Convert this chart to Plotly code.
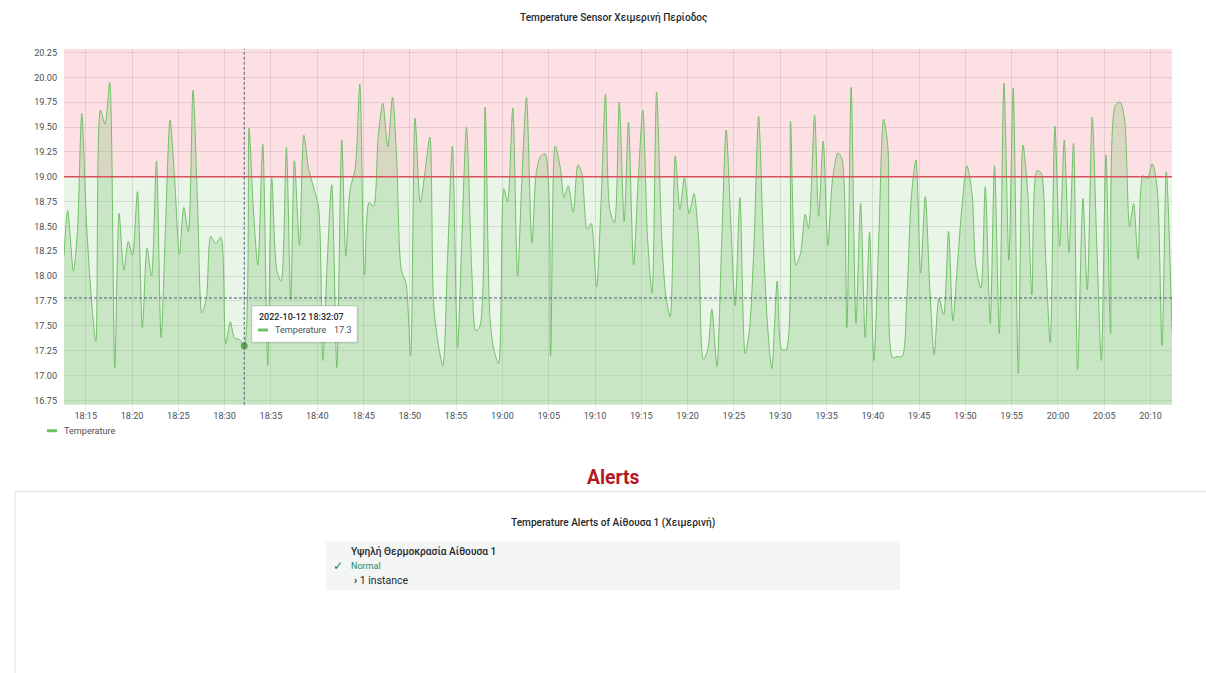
import pandas as pd
import plotly.graph_objects as go

# ---------------------------------------------------------------- data
DAY = "2022-10-12"

times = [
    "18:12:39", "18:13:03", "18:13:40", "18:14:06", "18:14:34", "18:15:05", "18:15:35",
    "18:16:05", "18:16:35", "18:17:05", "18:17:35", "18:18:08", "18:18:36", "18:19:07",
    "18:19:36", "18:20:03", "18:20:35", "18:21:07", "18:21:37", "18:22:06", "18:22:38",
    "18:23:08", "18:23:37", "18:24:06", "18:24:36", "18:25:07", "18:25:35", "18:26:05",
    "18:26:35", "18:27:05", "18:27:33", "18:28:02", "18:28:30", "18:29:02", "18:29:35",
    "18:30:07", "18:30:37", "18:31:03", "18:31:37", "18:32:07", "18:32:38", "18:33:05",
    "18:33:35", "18:34:07", "18:34:39", "18:35:05", "18:35:38", "18:36:06", "18:36:40",
    "18:37:08", "18:37:32", "18:38:05", "18:38:33", "18:39:05", "18:39:35", "18:40:08",
    "18:40:36", "18:41:05", "18:41:34", "18:42:07", "18:42:39", "18:43:05", "18:43:33",
    "18:44:06", "18:44:36", "18:45:06", "18:45:36", "18:46:04", "18:46:35", "18:47:05",
    "18:47:37", "18:48:08", "18:48:35", "18:49:05", "18:49:35", "18:50:05", "18:50:34",
    "18:51:08", "18:51:40", "18:52:10", "18:52:35", "18:53:06", "18:53:34", "18:54:05",
    "18:54:36", "18:55:09", "18:55:37", "18:56:07", "18:56:42", "18:57:08", "18:57:35",
    "18:58:08", "18:58:40", "18:59:05", "18:59:35", "19:00:09", "19:00:33", "19:01:07",
    "19:01:38", "19:02:05", "19:02:36", "19:03:11", "19:03:39", "19:04:05", "19:04:37",
    "19:05:12", "19:05:42", "19:06:14", "19:06:40", "19:07:06", "19:07:39", "19:08:09",
    "19:08:35", "19:09:09", "19:09:35", "19:10:10", "19:10:40", "19:11:08", "19:11:36",
    "19:12:06", "19:12:37", "19:13:09", "19:13:37", "19:14:10", "19:14:40", "19:15:10",
    "19:15:40", "19:16:10", "19:16:39", "19:17:13", "19:17:39", "19:18:07", "19:18:40",
    "19:19:10", "19:19:40", "19:20:10", "19:20:41", "19:21:11", "19:21:42", "19:22:11",
    "19:22:37", "19:23:10", "19:23:40", "19:24:10", "19:24:40", "19:25:08", "19:25:39",
    "19:26:13", "19:26:40", "19:27:10", "19:27:40", "19:28:12", "19:28:40", "19:29:06",
    "19:29:41", "19:30:11", "19:30:39", "19:31:07", "19:31:42", "19:32:12", "19:32:42",
    "19:33:04", "19:33:43", "19:34:09", "19:34:39", "19:35:09", "19:35:39", "19:36:14",
    "19:36:40", "19:37:12", "19:37:40", "19:38:11", "19:38:41", "19:39:11", "19:39:39",
    "19:40:07", "19:40:40", "19:41:10", "19:41:38", "19:42:08", "19:42:38", "19:43:10",
    "19:43:40", "19:44:10", "19:44:40", "19:45:10", "19:45:40", "19:46:10", "19:46:38",
    "19:47:09", "19:47:39", "19:48:11", "19:48:39", "19:49:08", "19:49:38", "19:50:10",
    "19:50:43", "19:51:08", "19:51:41", "19:52:09", "19:52:41", "19:53:09", "19:53:40",
    "19:54:10", "19:54:42", "19:55:10", "19:55:43", "19:56:13", "19:56:43", "19:57:11",
    "19:57:44", "19:58:10", "19:58:40", "19:59:10", "19:59:40", "20:00:11", "20:00:41",
    "20:01:11", "20:01:41", "20:02:07", "20:02:42", "20:03:10", "20:03:42", "20:04:12",
    "20:04:41", "20:05:11", "20:05:41", "20:06:12", "20:06:44", "20:07:12", "20:07:44",
    "20:08:10", "20:08:39", "20:09:11", "20:09:39", "20:10:11", "20:10:42", "20:11:14",
    "20:11:42", "20:12:19",
]

temps = [
    18.20, 18.66, 18.05, 18.45, 19.64, 18.53, 17.80,
    17.34, 19.67, 19.53, 19.95, 17.08, 18.63, 18.06,
    18.35, 18.21, 18.85, 17.48, 18.28, 18.00, 19.16,
    17.38, 18.50, 19.57, 18.97, 18.22, 18.69, 18.45,
    19.87, 18.70, 17.63, 17.78, 18.40, 18.33, 18.39,
    17.32, 17.54, 17.38, 17.36, 17.30, 19.49, 18.70,
    18.11, 19.33, 17.10, 18.99, 18.06, 17.95, 19.30,
    17.76, 19.16, 18.31, 19.42, 19.07, 18.90, 18.70,
    17.15, 18.15, 18.92, 17.08, 19.37, 18.20, 18.87,
    19.08, 19.93, 18.01, 18.74, 18.70, 19.40, 19.74,
    19.30, 19.80, 19.17, 18.06, 17.93, 17.20, 19.59,
    18.74, 19.07, 19.40, 17.70, 17.30, 17.10, 18.20,
    19.31, 17.28, 18.37, 19.50, 18.03, 17.45, 17.50,
    19.70, 17.56, 17.26, 17.12, 18.88, 18.75, 19.69,
    18.00, 18.93, 19.80, 18.33, 19.03, 19.20, 19.23,
    17.20, 19.31, 19.10, 18.79, 18.91, 18.64, 19.12,
    19.03, 18.47, 18.53, 17.89, 18.77, 19.83, 18.67,
    18.54, 19.75, 18.55, 19.55, 18.11, 18.97, 19.67,
    18.40, 17.83, 19.85, 18.37, 17.80, 17.59, 19.21,
    18.67, 18.99, 18.63, 18.83, 18.37, 17.16, 17.26,
    17.67, 17.09, 18.30, 19.47, 18.53, 17.70, 18.79,
    17.22, 17.45, 18.30, 19.61, 18.30, 17.46, 17.07,
    17.95, 17.26, 17.26, 19.56, 18.11, 18.23, 18.62,
    18.48, 19.62, 18.60, 19.36, 18.31, 18.97, 19.24,
    19.18, 17.48, 19.90, 17.52, 18.73, 17.38, 18.44,
    17.15, 18.43, 19.58, 19.30, 17.18, 17.19, 17.19,
    17.75, 18.80, 19.17, 18.03, 18.80, 17.86, 17.21,
    17.78, 17.61, 18.45, 17.55, 18.10, 18.70, 19.11,
    18.83, 18.10, 17.88, 18.90, 17.52, 19.11, 17.42,
    19.94, 18.16, 19.89, 17.02, 19.32, 18.87, 17.81,
    19.06, 19.04, 18.20, 17.33, 19.51, 18.30, 19.37,
    18.24, 19.34, 17.06, 18.78, 17.86, 19.60, 18.30,
    17.15, 19.22, 17.42, 19.72, 19.75, 19.57, 18.50,
    18.73, 18.17, 19.01, 18.98, 19.13, 18.90, 17.30,
    19.05, 17.46,
]

y_ticks = [16.75, 17.00, 17.25, 17.50, 17.75, 18.00, 18.25, 18.50,
           18.75, 19.00, 19.25, 19.50, 19.75, 20.00, 20.25]
Y_MIN, Y_MAX = 16.705, 20.287

THRESHOLD = 19.0
HOVER_TIME = "18:32:07"
CURSOR_Y = 17.78

TITLE = "Temperature Sensor Χειμερινή Περίοδος"
SERIES = "Temperature"
ALERT_HEADING = "Alerts"
ALERT_PANEL_TITLE = "Temperature Alerts of Αίθουσα 1 (Χειμερινή)"
ALERT_RULE = "Υψηλή Θερμοκρασία Αίθουσα 1"
ALERT_STATE = "Normal"
ALERT_INSTANCES = "1 instance"

# ---------------------------------------------------------------- style
W, H = 1206, 673
FONT = "Roboto, Inter, 'Noto Sans', sans-serif"
GREEN = "#73BF69"
TEXT = "#24292e"
TICK_TEXT = "#4a5057"
GRID = "rgba(0,0,0,0.09)"
SMALL = 9.1


def px(x):
    return x / W


def py(y):
    return 1 - y / H


x = pd.to_datetime([f"{DAY} {t}" for t in times])
hover_idx = times.index(HOVER_TIME)
hx, hy = x[hover_idx], temps[hover_idx]

fig = go.Figure()
fig.add_trace(go.Scatter(
    x=x, y=temps, mode="lines", name=SERIES,
    line=dict(color=GREEN, width=1, shape="spline", smoothing=0.8),
    fill="tozeroy", fillcolor="rgba(115,191,105,0.27)",
    hoverinfo="skip",
))
fig.add_trace(go.Scatter(
    x=[hx], y=[hy], mode="markers",
    marker=dict(color="#5aa84f", size=7, line=dict(width=0)),
    hoverinfo="skip",
))

shapes = [
    # threshold regions
    dict(type="rect", xref="x domain", yref="y", x0=0, x1=1, y0=THRESHOLD, y1=Y_MAX,
         fillcolor="rgba(242,73,92,0.17)", line=dict(width=0), layer="below"),
    dict(type="rect", xref="x domain", yref="y", x0=0, x1=1, y0=Y_MIN, y1=THRESHOLD,
         fillcolor="rgba(115,191,105,0.16)", line=dict(width=0), layer="below"),
    # threshold line
    dict(type="line", xref="x domain", yref="y", x0=0, x1=1, y0=THRESHOLD, y1=THRESHOLD,
         line=dict(color="#db4f5a", width=1.5), layer="above"),
    # crosshair
    dict(type="line", xref="x", yref="y domain", x0=hx, x1=hx, y0=0, y1=1,
         line=dict(color="#4c5b78", width=1, dash="3px,2px"), layer="above"),
    dict(type="line", xref="x domain", yref="y", x0=0, x1=1, y0=CURSOR_Y, y1=CURSOR_Y,
         line=dict(color="#4c5b78", width=1, dash="3px,2px"), layer="above"),
    # tooltip box (soft shadow + card)
    dict(type="rect", xref="paper", yref="paper", x0=px(251), x1=px(359), y0=py(344), y1=py(305),
         fillcolor="rgba(0,0,0,0.05)", line=dict(width=0), layer="above"),
    dict(type="rect", xref="paper", yref="paper", x0=px(252), x1=px(357), y0=py(342), y1=py(306),
         fillcolor="white", line=dict(color="rgba(0,0,0,0.10)", width=1), layer="above"),
    dict(type="line", xref="paper", yref="paper", x0=px(258), x1=px(268), y0=py(330), y1=py(330),
         line=dict(color=GREEN, width=3), layer="above"),
    # legend swatch
    dict(type="line", xref="paper", yref="paper", x0=px(47), x1=px(57), y0=py(431), y1=py(431),
         line=dict(color=GREEN, width=3)),
    # alerts panel
    dict(type="rect", xref="paper", yref="paper", x0=px(15), x1=px(W + 20), y0=py(H + 20), y1=py(492),
         fillcolor="white", line=dict(color="#dfe1e5", width=1), layer="below"),
    dict(type="rect", xref="paper", yref="paper", x0=px(326), x1=px(900), y0=py(591), y1=py(542),
         fillcolor="#f4f5f5", line=dict(width=0), layer="below"),
]

annotations = [
    dict(text=TITLE, x=px(613), y=py(17), xref="paper", yref="paper", showarrow=False,
         xanchor="center", yanchor="middle",
         font=dict(family=FONT, size=10.1, color=TEXT, weight=500)),
    dict(text=SERIES, x=px(62), y=py(431), xref="paper", yref="paper", showarrow=False,
         xanchor="left", yanchor="middle", font=dict(family=FONT, size=SMALL, color=TICK_TEXT)),
    # tooltip contents
    dict(text=f"{DAY} {HOVER_TIME}", x=px(257), y=py(317), xref="paper", yref="paper",
         showarrow=False, xanchor="left", yanchor="middle",
         font=dict(family=FONT, size=9, color=TEXT, weight=500)),
    dict(text=SERIES, x=px(273), y=py(330), xref="paper", yref="paper", showarrow=False,
         xanchor="left", yanchor="middle", font=dict(family=FONT, size=SMALL, color=TICK_TEXT)),
    dict(text=f"{round(hy, 1):g}", x=px(354), y=py(330), xref="paper", yref="paper",
         showarrow=False, xanchor="right", yanchor="middle",
         font=dict(family=FONT, size=SMALL, color=TICK_TEXT)),
    # alerts section
    dict(text=ALERT_HEADING, x=px(613), y=py(478), xref="paper", yref="paper", showarrow=False,
         xanchor="center", yanchor="middle",
         font=dict(family=FONT, size=19.3, color="#b3191f", weight=700)),
    dict(text=ALERT_PANEL_TITLE, x=px(613), y=py(524), xref="paper", yref="paper",
         showarrow=False, xanchor="center", yanchor="middle",
         font=dict(family=FONT, size=10.1, color=TEXT, weight=500)),
    dict(text=ALERT_RULE, x=px(349), y=py(553), xref="paper", yref="paper", showarrow=False,
         xanchor="left", yanchor="middle",
         font=dict(family=FONT, size=10.2, color=TEXT, weight=500)),
    dict(text="✓", x=px(338), y=py(567), xref="paper", yref="paper", showarrow=False,
         xanchor="center", yanchor="middle", font=dict(family="DejaVu Sans", size=12, color="#1a7f4b")),
    dict(text=ALERT_STATE, x=px(349), y=py(567), xref="paper", yref="paper", showarrow=False,
         xanchor="left", yanchor="middle", font=dict(family=FONT, size=9, color="#1b8a5e")),
    dict(text="<b>›</b> " + ALERT_INSTANCES, x=px(352), y=py(581), xref="paper", yref="paper",
         showarrow=False, xanchor="left", yanchor="middle",
         font=dict(family=FONT, size=10.5, color=TEXT)),
]

fig.update_layout(
    width=W, height=H,
    margin=dict(l=0, r=0, t=0, b=0),
    paper_bgcolor="white", plot_bgcolor="white",
    showlegend=False,
    font=dict(family=FONT, size=SMALL, color=TICK_TEXT),
    shapes=shapes, annotations=annotations,
    xaxis=dict(
        domain=[px(64), px(1172)],
        type="date", range=[x[0], x[-1]],
        tick0=f"{DAY} 18:15:00", dtick=300000, tickformat="%H:%M",
        showgrid=True, gridcolor=GRID, gridwidth=1,
        ticks="outside", ticklen=5, tickcolor=GRID,
        ticklabelstandoff=-3,
        showline=False, zeroline=False,
        tickfont=dict(family=FONT, size=SMALL, color=TICK_TEXT),
    ),
    yaxis=dict(
        domain=[py(405), py(48)],
        range=[Y_MIN, Y_MAX],
        tickvals=y_ticks, tickformat=".2f",
        showgrid=True, gridcolor=GRID, gridwidth=1,
        ticks="", showline=False, zeroline=False,
        ticklabelstandoff=6,
        tickfont=dict(family=FONT, size=SMALL, color=TICK_TEXT),
    ),
)

fig.write_html("out.html")
